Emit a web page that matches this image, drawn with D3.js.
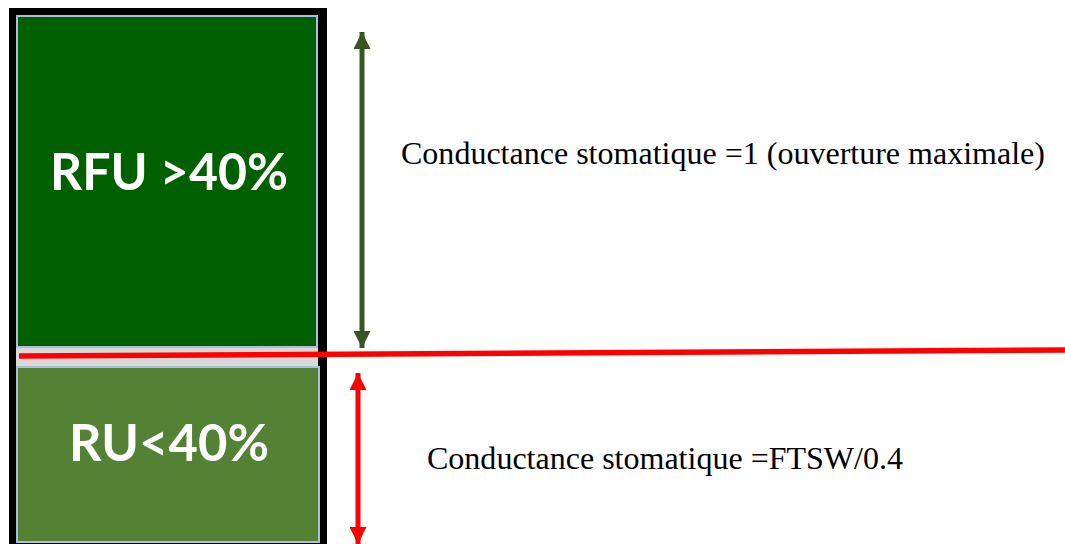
<!DOCTYPE html>
<html>
<head>
<meta charset="utf-8">
<script src="https://cdn.jsdelivr.net/npm/d3@7"></script>
<style>
  html, body { margin: 0; padding: 0; background: #fff; }
  svg { display: block; }
</style>
</head>
<body>
<svg width="1065" height="544"></svg>
<script>
// soil water zones (fraction of available water)
var zoneNames = ['RFU >40%', 'RU<40%']
var zoneFrom = [1, 0.4]
var zoneTo = [0.4, 0]
var zoneColors = ['#006000', '#548235']
var threshold = 0.4
var notes = ['Conductance stomatique =1 (ouverture maximale)', 'Conductance stomatique =FTSW/0.4']
var arrowColors = ['#375623', '#ff0000']

var svg = d3.select('svg'),
  width = +svg.attr('width'),
  height = +svg.attr('height')

// piecewise scale: the drawing is not strictly proportional
var y = d3.scaleLinear().domain([0, threshold, 1]).range([542, 352, 15])
var box = {left: 16, right: 318}

var defs = svg.append('defs')
arrowColors.forEach(function (c, i) {
  defs.append('marker')
      .attr('id', 'head' + i)
      .attr('viewBox', '0 0 18 17')
      .attr('refX', 17).attr('refY', 8.5)
      .attr('markerUnits', 'userSpaceOnUse')
      .attr('markerWidth', 18).attr('markerHeight', 17)
      .attr('orient', 'auto-start-reverse')
    .append('path')
      .attr('d', 'M0,0 L17,8.5 L0,17 Z')
      .attr('fill', c)
})

// black frame + grey gap
svg.append('rect')
    .attr('x', box.left - 7).attr('y', y(1) - 7)
    .attr('width', box.right - box.left + 16).attr('height', height)
    .attr('fill', '#000')
svg.append('rect')
    .attr('x', box.left).attr('y', y(threshold) - 5)
    .attr('width', box.right - box.left).attr('height', 20)
    .attr('fill', '#d9d9d9')

var zones = zoneNames.map(function (d, i) {
  return {name: d, from: zoneFrom[i], to: zoneTo[i], color: zoneColors[i]}
})

svg.selectAll('rect.zone')
  .data(zones)
  .enter().append('rect')
    .attr('class', 'zone')
    .attr('x', box.left + 1)
    .attr('y', function (d, i) { return i === 0 ? y(d.from) + 1 : y(d.from) + 15 })
    .attr('width', function (d, i) { return box.right - box.left - 2 + (i === 1 ? 2 : 0) })
    .attr('height', function (d, i) {
      return i === 0 ? y(d.to) - y(d.from) - 6 : y(d.to) - y(d.from) - 15
    })
    .attr('fill', function (d) { return d.color })
    .attr('stroke', '#a9bfe0')
    .attr('stroke-width', 2)

svg.selectAll('text.zone')
  .data(zones)
  .enter().append('text')
    .attr('class', 'zone')
    .attr('x', (box.left + box.right) / 2 + 2)
    .attr('y', function (d, i) { return i === 0 ? 190 : 461 })
    .attr('text-anchor', 'middle')
    .attr('fill', '#fff')
    .attr('font-family', 'Lato, "DejaVu Sans", sans-serif')
    .attr('font-weight', 'bold')
    .attr('font-size', 51)
    .attr('textLength', function (d, i) { return i === 0 ? 238 : 200 })
    .attr('lengthAdjust', 'spacingAndGlyphs')
    .text(function (d) { return d.name })

// threshold line
svg.append('line')
    .attr('x1', box.left + 3).attr('y1', y(threshold) + 4)
    .attr('x2', width).attr('y2', y(threshold) - 2)
    .attr('stroke', '#ff0000')
    .attr('stroke-width', 5.5)

// double arrows
var arrows = [
  {x: 362, y1: y(1) + 17, y2: y(threshold) - 4},
  {x: 358, y1: y(threshold) + 21, y2: height}
]
svg.selectAll('line.arrow')
  .data(arrows)
  .enter().append('line')
    .attr('class', 'arrow')
    .attr('x1', function (d) { return d.x })
    .attr('x2', function (d) { return d.x })
    .attr('y1', function (d) { return d.y1 })
    .attr('y2', function (d) { return d.y2 })
    .attr('stroke', function (d, i) { return arrowColors[i] })
    .attr('stroke-width', 5)
    .attr('marker-start', function (d, i) { return 'url(#head' + i + ')' })
    .attr('marker-end', function (d, i) { return 'url(#head' + i + ')' })

svg.selectAll('text.note')
  .data(notes)
  .enter().append('text')
    .attr('class', 'note')
    .attr('x', function (d, i) { return i === 0 ? 401 : 427 })
    .attr('y', function (d, i) { return i === 0 ? 164 : 469 })
    .attr('font-family', '"Liberation Serif", "Times New Roman", serif')
    .attr('font-size', 31)
    .attr('fill', '#000')
    .attr('textLength', function (d, i) { return i === 0 ? 644 : 476 })
    .attr('lengthAdjust', 'spacingAndGlyphs')
    .text(function (d) { return d })
</script>
</body>
</html>
